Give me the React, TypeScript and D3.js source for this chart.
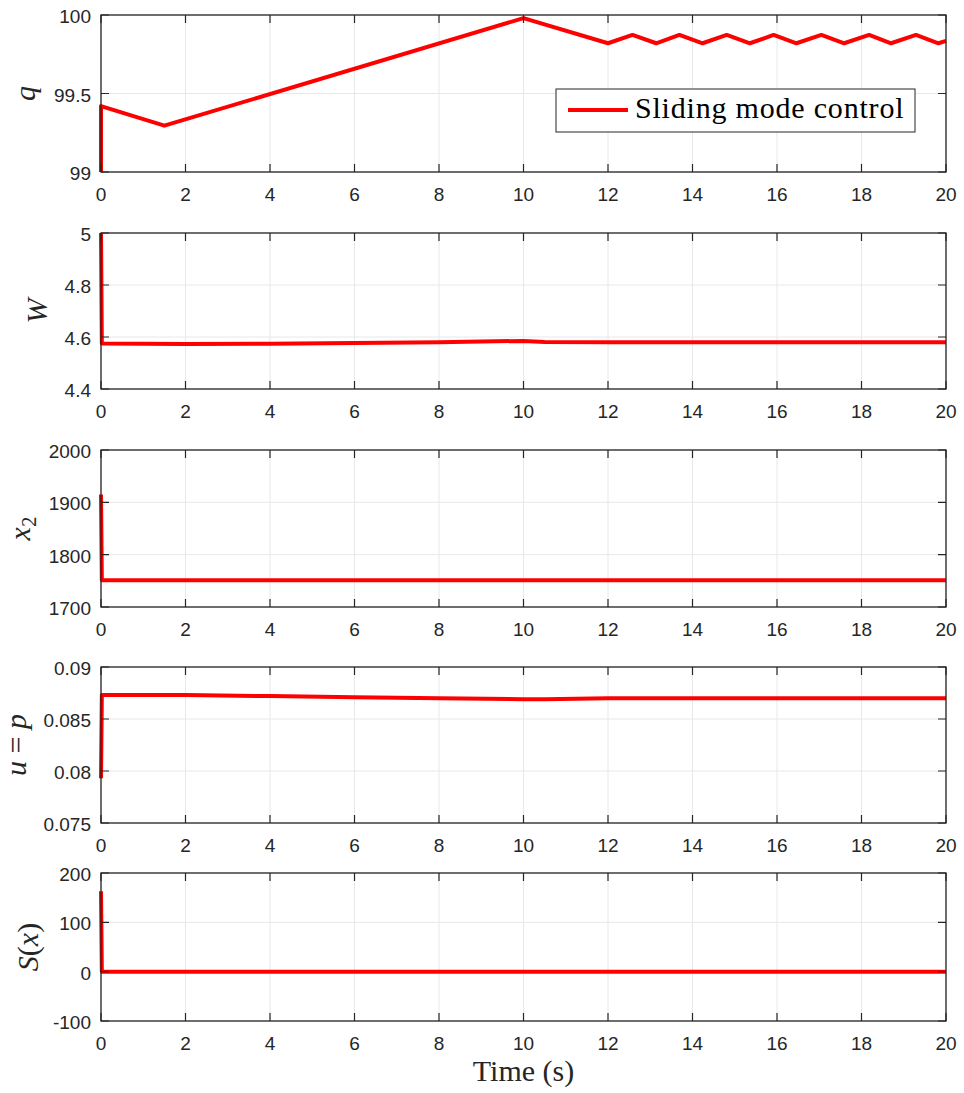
import React, { useRef, useEffect } from "react";
import * as d3 from "d3";

// Time axis shared by all subplots
const xTicks = [0, 2, 4, 6, 8, 10, 12, 14, 16, 18, 20];

// q (top panel)
const qTime = [0, 0, 1.5, 10, 12.0, 12.58, 13.14, 13.69, 14.24, 14.81, 15.36, 15.92, 16.46, 17.05, 17.59, 18.18, 18.7, 19.29, 19.82, 20];
const qValues = [99, 99.42, 99.295, 99.98, 99.82, 99.873, 99.82, 99.873, 99.82, 99.873, 99.82, 99.873, 99.82, 99.873, 99.82, 99.873, 99.82, 99.873, 99.82, 99.835];
const qTicks = [99, 99.5, 100];

// W
const wTime = [0, 0.02, 2, 4, 6, 8, 10, 10.5, 12, 16, 20];
const wValues = [5, 4.575, 4.573, 4.574, 4.577, 4.58, 4.585, 4.581, 4.58, 4.58, 4.58];
const wTicks = [4.4, 4.6, 4.8, 5];

// x2
const x2Time = [0, 0.02, 2, 10, 20];
const x2Values = [1915, 1751, 1751, 1751, 1751];
const x2Ticks = [1700, 1800, 1900, 2000];

// u = p
const uTime = [0, 0.02, 2, 4, 6, 8, 10, 10.5, 12, 16, 20];
const uValues = [0.0793, 0.0873, 0.0873, 0.0872, 0.0871, 0.087, 0.0869, 0.0869, 0.087, 0.087, 0.087];
const uTicks = [0.075, 0.08, 0.085, 0.09];

// S(x)
const sTime = [0, 0.02, 2, 10, 12, 20];
const sValues = [163, 0, 0, 0, 0, 0];
const sTicks = [-100, 0, 100, 200];

const panels = [
  { time: qTime, values: qValues, ticks: qTicks, domain: [99, 100], top: 15, bottom: 172, labelX: 35 },
  { time: wTime, values: wValues, ticks: wTicks, domain: [4.4, 5], top: 233, bottom: 389, labelX: 47 },
  { time: x2Time, values: x2Values, ticks: x2Ticks, domain: [1700, 2000], top: 450, bottom: 607, labelX: 30 },
  { time: uTime, values: uValues, ticks: uTicks, domain: [0.075, 0.09], top: 667, bottom: 823, labelX: 26 },
  { time: sTime, values: sValues, ticks: sTicks, domain: [-100, 200], top: 873, bottom: 1021, labelX: 38 },
];

const App = () => {
  const svgRef = useRef(null);

  useEffect(() => {
    const width = 964;
    const height = 1093;
    const left = 101;
    const right = 946;
    const svg = d3.select(svgRef.current).attr("width", width).attr("height", height);
    svg.selectAll("*").remove();
    svg.append("rect").attr("width", width).attr("height", height).attr("fill", "#fff");

    const x = d3.scaleLinear().domain([0, 20]).range([left, right]);
    const axisColor = "#262626";
    const tickFont = "'Liberation Sans', Arial, sans-serif";
    const serif = "'Liberation Serif', 'Times New Roman', serif";

    panels.forEach((p, i) => {
      const y = d3.scaleLinear().domain(p.domain).range([p.bottom, p.top]);
      const g = svg.append("g");

      // grid
      g.selectAll()
        .data(xTicks)
        .join("line")
        .attr("x1", (d) => x(d))
        .attr("x2", (d) => x(d))
        .attr("y1", p.top)
        .attr("y2", p.bottom)
        .attr("stroke", "#e8e8e8")
        .attr("stroke-width", 1);
      g.selectAll()
        .data(p.ticks)
        .join("line")
        .attr("x1", left)
        .attr("x2", right)
        .attr("y1", (d) => y(d))
        .attr("y2", (d) => y(d))
        .attr("stroke", "#e8e8e8")
        .attr("stroke-width", 1);

      // data line
      const line = d3
        .line()
        .x((d) => x(d[0]))
        .y((d) => y(d[1]));
      g.append("path")
        .datum(p.time.map((t, k) => [t, p.values[k]]))
        .attr("d", line)
        .attr("fill", "none")
        .attr("stroke", "#ff0000")
        .attr("stroke-width", 4)
        .attr("stroke-linejoin", "round");

      // inward ticks
      const tl = 8;
      g.selectAll()
        .data(xTicks)
        .join("path")
        .attr("d", (d) => `M${x(d)},${p.bottom}v${-tl}M${x(d)},${p.top}v${tl}`)
        .attr("stroke", axisColor)
        .attr("stroke-width", 1.2);
      g.selectAll()
        .data(p.ticks)
        .join("path")
        .attr("d", (d) => `M${left},${y(d)}h${tl}M${right},${y(d)}h${-tl}`)
        .attr("stroke", axisColor)
        .attr("stroke-width", 1.2);

      // box
      g.append("rect")
        .attr("x", left)
        .attr("y", p.top)
        .attr("width", right - left)
        .attr("height", p.bottom - p.top)
        .attr("fill", "none")
        .attr("stroke", axisColor)
        .attr("stroke-width", 1.3);

      // tick labels
      g.selectAll()
        .data(xTicks)
        .join("text")
        .attr("x", (d) => x(d))
        .attr("y", p.bottom + 29)
        .attr("text-anchor", "middle")
        .attr("font-family", tickFont)
        .attr("font-size", 19)
        .attr("fill", axisColor)
        .text((d) => d);
      g.selectAll()
        .data(p.ticks)
        .join("text")
        .attr("x", left - 10)
        .attr("y", (d) => y(d) + 8)
        .attr("text-anchor", "end")
        .attr("font-family", tickFont)
        .attr("font-size", 19)
        .attr("fill", axisColor)
        .text((d) => String(d));

      // y label
      const cy = (p.top + p.bottom) / 2;
      const lab = g
        .append("text")
        .attr("transform", `translate(${p.labelX},${cy}) rotate(-90)`)
        .attr("text-anchor", "middle")
        .attr("font-family", serif)
        .attr("font-size", 30)
        .attr("fill", axisColor);
      if (i === 0) lab.append("tspan").attr("font-style", "italic").text("q");
      if (i === 1) lab.append("tspan").attr("font-style", "italic").text("W");
      if (i === 2) {
        lab.append("tspan").attr("font-style", "italic").text("x");
        lab.append("tspan").attr("font-size", 21).attr("dy", 6).text("2");
      }
      if (i === 3) {
        lab.append("tspan").attr("font-style", "italic").text("u");
        lab.append("tspan").text(" = ");
        lab.append("tspan").attr("font-style", "italic").text("p");
      }
      if (i === 4) {
        lab.append("tspan").attr("font-style", "italic").text("S");
        lab.append("tspan").text("(");
        lab.append("tspan").attr("font-style", "italic").text("x");
        lab.append("tspan").text(")");
      }
    });

    // legend
    const legend = svg.append("g");
    legend
      .append("rect")
      .attr("x", 556)
      .attr("y", 89)
      .attr("width", 359)
      .attr("height", 43)
      .attr("fill", "#fff")
      .attr("stroke", axisColor)
      .attr("stroke-width", 1);
    legend
      .append("line")
      .attr("x1", 568)
      .attr("x2", 628)
      .attr("y1", 110)
      .attr("y2", 110)
      .attr("stroke", "#ff0000")
      .attr("stroke-width", 4);
    legend
      .append("text")
      .attr("x", 635)
      .attr("y", 118)
      .attr("font-family", serif)
      .attr("font-size", 30)
      .attr("letter-spacing", 0.8)
      .attr("fill", "#000")
      .text("Sliding mode control");

    // x label
    svg
      .append("text")
      .attr("x", (left + right) / 2)
      .attr("y", 1081)
      .attr("text-anchor", "middle")
      .attr("font-family", serif)
      .attr("font-size", 30)
      .attr("fill", axisColor)
      .text("Time (s)");
  }, []);

  return (
    <div>
      <svg ref={svgRef} style={{ position: "absolute", left: 0, top: 0, display: "block" }}></svg>
    </div>
  );
};

export default App;
